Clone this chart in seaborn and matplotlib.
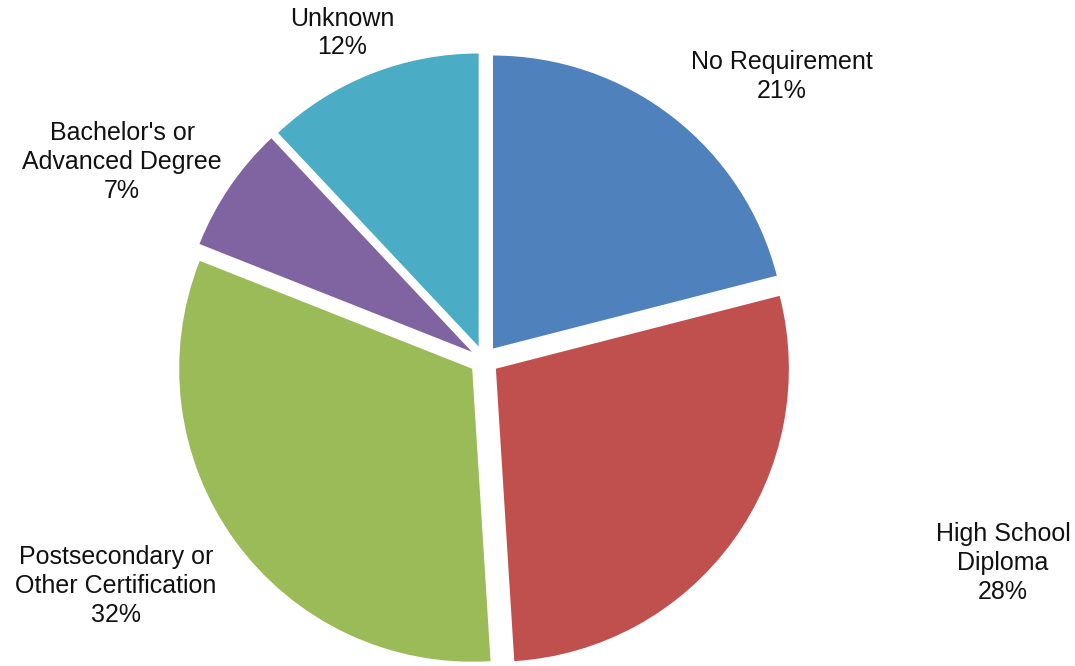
import matplotlib
matplotlib.use("Agg")
import matplotlib.pyplot as plt
import seaborn as sns

categories = ["No Requirement", "High School\nDiploma", "Postsecondary or\nOther Certification",
              "Bachelor's or\nAdvanced Degree", "Unknown"]
values = [21, 28, 32, 7, 12]
colors = ["#4F81BD", "#C0504D", "#9BBB59", "#8064A2", "#4BACC6"]

# label centres (in units of pie radius, relative to pie centre)
label_pos = [(1.017, 0.968), (1.771, -0.692), (-1.256, -0.771), (-1.235, 0.676), (-0.485, 1.116)]

sns.set_theme(style="white")
plt.rcParams['font.family'] = ['Liberation Sans', 'DejaVu Sans']

fig = plt.figure(figsize=(10.75, 6.66), dpi=100)
ax = fig.add_axes([0, 0, 1, 1])
palette = sns.color_palette(colors)
ax.pie(values, colors=palette, startangle=90, counterclock=False,
       explode=[0.05] * len(values), radius=1.0,
       wedgeprops=dict(linewidth=0, edgecolor="white"))
for cat, v, (x, y) in zip(categories, values, label_pos):
    ax.text(x, y, f"{cat}\n{v}%", ha="center", va="center", fontsize=18,
            color="#111111", linespacing=1.25)
ax.set_xlim(-1.652, 2.017)
ax.set_ylim(-1.044, 1.229)
ax.set_aspect("equal")
ax.axis("off")
fig.savefig("out.png", dpi=100)
